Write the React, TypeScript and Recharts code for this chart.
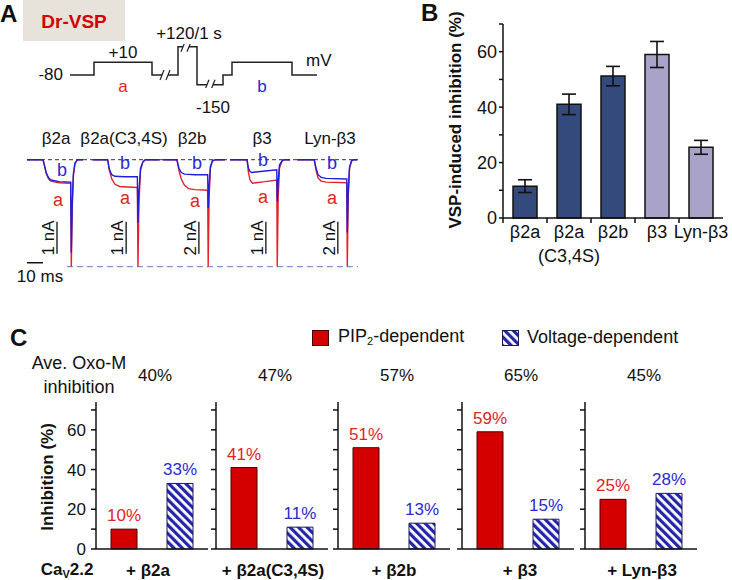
import React from "react";
import {
  BarChart,
  Bar,
  LineChart,
  Line,
  XAxis,
  YAxis,
  Cell,
  ErrorBar,
  LabelList,
  ReferenceLine,
  ReferenceDot,
} from "recharts";

const FONT = "'Liberation Sans', Arial, Helvetica, sans-serif";
const INK = "#111";
const RED = "#d40000";
const LABEL_RED = "#e02424";
const LABEL_BLUE = "#2a2ad0";
const TRACE_RED = "#e3232b";
const TRACE_BLUE = "#1f1fe0";

// ---- panel A: voltage protocol (schematic time, mV) ----
const protocolTime = [0, 24, 24, 82, 82, 108, 108, 127, 127, 153, 153, 162, 162, 222, 222, 247];
const protocolMv = [-80, -80, 10, 10, -80, -80, 120, 120, -150, -150, -80, -80, 10, 10, -80, -80];
const protocolBreaks = [
  { t: 95, mv: -80 },
  { t: 116, mv: 120 },
  { t: 140, mv: -150 },
];

// ---- panel A: current traces, [ms, current relative to red tail peak] ----
const traceNames = ["β2a", "β2a(C3,4S)", "β2b", "β3", "Lyn-β3"];
const traceStart = [0, 41, 85, 127, 169];
const traceScale = ["1 nA", "1 nA", "2 nA", "1 nA", "2 nA"];
const scaleBarT = [18.75, 62, 107.5, 149.4, 194.4];

const b2aRed = [[0, 0], [10, 0], [11, -0.06], [12, -0.13], [13.5, -0.18], [15, -0.2], [20, -0.215], [27.3, -0.22], [27.7, -1], [28.3, -0.45], [29, -0.15], [30, -0.04], [31.5, 0], [35, 0]];
const b2aBlue = [[0, 0], [10, 0], [11, -0.06], [12, -0.12], [13.5, -0.17], [15, -0.19], [20, -0.205], [27.3, -0.21], [27.7, -0.87], [28.3, -0.4], [29, -0.13], [30, -0.03], [31.5, 0], [35, 0]];
const c34Red = [[0, 0], [9.4, 0], [10.5, -0.1], [12, -0.18], [14, -0.23], [17, -0.25], [22, -0.255], [28, -0.26], [28.4, -1], [29, -0.4], [30, -0.1], [31.5, -0.02], [33, 0], [42, 0]];
const c34Blue = [[0, 0], [9.4, 0], [10.5, -0.09], [12, -0.14], [14, -0.155], [20, -0.16], [28, -0.16], [28.4, -0.59], [29, -0.3], [30, -0.08], [31.5, -0.02], [33, 0], [42, 0]];
const b2bRed = [[0, 0], [8.75, 0], [10, -0.1], [11.5, -0.18], [13.5, -0.24], [16, -0.27], [20, -0.28], [28, -0.285], [28.3, -1], [28.9, -0.35], [29.7, -0.08], [31, -0.01], [33, 0], [38.75, 0]];
const b2bBlue = [[0, 0], [8.75, 0], [10, -0.08], [11.5, -0.12], [13.5, -0.135], [20, -0.14], [28, -0.14], [28.3, -0.45], [28.9, -0.25], [29.7, -0.06], [31, -0.01], [33, 0], [38.75, 0]];
const b3Red = [[0, 0], [10.6, 0], [11.5, -0.12], [12.5, -0.19], [14, -0.22], [16, -0.215], [22, -0.205], [29.2, -0.19], [29.5, -1], [30.1, -0.35], [30.9, -0.08], [32.5, -0.01], [34, 0], [37.5, 0]];
const b3Blue = [[0, 0], [10.6, 0], [11.5, -0.08], [12.5, -0.11], [13.5, -0.12], [16, -0.115], [22, -0.105], [29.2, -0.095], [29.5, -0.39], [30.1, -0.2], [30.9, -0.05], [32.5, -0.01], [34, 0], [37.5, 0]];
const lynRed = [[0, 0], [10.6, 0], [11.8, -0.1], [13, -0.17], [15, -0.2], [18, -0.21], [31, -0.215], [31.3, -1], [31.9, -0.35], [32.7, -0.08], [34, -0.01], [35.5, 0], [37.5, 0]];
const lynBlue = [[0, 0], [10.6, 0], [11.8, -0.08], [13, -0.14], [15, -0.165], [18, -0.175], [31, -0.18], [31.3, -0.68], [31.9, -0.3], [32.7, -0.07], [34, -0.01], [35.5, 0], [37.5, 0]];
const redTraces = [b2aRed, c34Red, b2bRed, b3Red, lynRed];
const blueTraces = [b2aBlue, c34Blue, b2bBlue, b3Blue, lynBlue];

// ---- panel B ----
const bCats = ["β2a", "β2a\n(C3,4S)", "β2b", "β3", "Lyn-β3"];
const bMeans = [11.5, 41, 51.2, 59, 25.5];
const bSem = [2.3, 3.7, 3.5, 4.7, 2.5];
const bColors = ["#344a7c", "#344a7c", "#344a7c", "#a9a2c9", "#a9a2c9"];

// ---- panel C ----
const cGroups = ["+ β2a", "+ β2a(C3,4S)", "+ β2b", "+ β3", "+ Lyn-β3"];
const pipDep = [10, 41, 51, 59, 25];
const voltDep = [33, 11, 13, 15, 28];
const oxoM = [40, 47, 57, 65, 45];
const cAxisX = [96, 216, 338, 462, 585];

type TxtProps = {
  x: number;
  y: number;
  children: React.ReactNode;
  size?: number;
  color?: string;
  bold?: boolean;
  anchor?: "start" | "middle" | "end";
  rotate?: number;
};

const Txt = ({ x, y, children, size = 17, color = INK, bold = false, anchor = "middle", rotate = 0 }: TxtProps) => {
  const tx = anchor === "middle" ? "-50%" : anchor === "end" ? "-100%" : "0";
  return (
    <div
      style={{
        position: "absolute",
        left: x,
        top: y,
        transform: `translate(${tx}, -50%) rotate(${rotate}deg)`,
        fontSize: size,
        lineHeight: 1,
        whiteSpace: "nowrap",
        color,
        fontWeight: bold ? 700 : 400,
      }}
    >
      {children}
    </div>
  );
};

const BreakMark = (props: any) => {
  const { cx, cy } = props;
  return (
    <g>
      <rect x={cx - 3} y={cy - 4} width={6} height={8} fill="#fff" />
      <line x1={cx - 5} y1={cy + 5} x2={cx - 1} y2={cy - 5} stroke="#222" strokeWidth={1.2} />
      <line x1={cx + 1} y1={cy + 5} x2={cx + 5} y2={cy - 5} stroke="#222" strokeWidth={1.2} />
    </g>
  );
};

const Protocol = () => {
  const data = protocolTime.map((t, i) => ({ t, mv: protocolMv[i] }));
  const pxPerMv = 38 / 270;
  return (
    <div style={{ position: "absolute", left: 70, top: 47 - 20 * pxPerMv }}>
      <LineChart width={247} height={310 * pxPerMv} data={data} margin={{ top: 0, right: 0, bottom: 0, left: 0 }}>
        <XAxis type="number" dataKey="t" domain={[0, 247]} hide />
        <YAxis type="number" domain={[-170, 140]} hide />
        <Line dataKey="mv" stroke="#222" strokeWidth={1.5} dot={false} isAnimationActive={false} />
        {protocolBreaks.map((b, i) => (
          <ReferenceDot key={i} x={b.t} y={b.mv} r={0} shape={BreakMark} />
        ))}
      </LineChart>
    </div>
  );
};

const Traces = () => {
  const unit = 107;
  const shift = (pts: number[][], k: number) => pts.map(([t, i]) => ({ t: t + traceStart[k], i }));
  return (
    <div style={{ position: "absolute", left: 27, top: 160 - 0.1 * unit }}>
      <LineChart width={331} height={1.2 * unit} margin={{ top: 0, right: 0, bottom: 0, left: 0 }}>
        <XAxis type="number" dataKey="t" domain={[0, 207]} hide />
        <YAxis type="number" dataKey="i" domain={[-1.1, 0.1]} hide />
        <ReferenceLine segment={[{ x: 0, y: 0 }, { x: 207, y: 0 }]} stroke="#333" strokeDasharray="4 3" />
        <ReferenceLine segment={[{ x: 25, y: -1 }, { x: 207, y: -1 }]} stroke="#5a7ccc" strokeDasharray="6 4" />
        {redTraces.map((tr, k) => (
          <Line key={"r" + k} data={shift(tr, k)} dataKey="i" stroke={TRACE_RED} strokeWidth={1.4} dot={false} isAnimationActive={false} />
        ))}
        {blueTraces.map((tr, k) => (
          <Line key={"b" + k} data={shift(tr, k)} dataKey="i" stroke={TRACE_BLUE} strokeWidth={1.4} dot={false} isAnimationActive={false} />
        ))}
        <ReferenceLine segment={[{ x: 0, y: -0.963 }, { x: 10, y: -0.963 }]} stroke={INK} strokeWidth={1.5} />
        {scaleBarT.map((t, k) => (
          <ReferenceLine key={"s" + k} segment={[{ x: t, y: -0.58 }, { x: t, y: -0.88 }]} stroke={INK} strokeWidth={1.3} />
        ))}
      </LineChart>
    </div>
  );
};

const BTick = (props: any) => {
  const { x, y, payload } = props;
  const off = payload && payload.offset ? payload.offset : 22;
  const lines = String(payload.value).split("\n");
  return (
    <g>
      <line x1={x - off} x2={x - off} y1={y - 7} y2={y - 2} stroke={INK} strokeWidth={1.5} />
      <text x={x} y={y} textAnchor="middle" fontSize={18} fill={INK} fontFamily={FONT}>
        {lines.map((l, i) => (
          <tspan key={i} x={x} dy={i === 0 ? "0.71em" : "1.35em"}>
            {l}
          </tspan>
        ))}
      </text>
    </g>
  );
};

const PanelB = () => {
  const data = bCats.map((name, i) => ({ name, value: bMeans[i], err: bSem[i] }));
  return (
    <div style={{ position: "absolute", left: 370, top: 0 }}>
      <BarChart width={362} height={280} data={data} margin={{ top: 24, right: 9, bottom: 12, left: 93 }}>
        <XAxis
          dataKey="name"
          height={50}
          interval={0}
          tickLine={false}
          tickSize={5}
          tickMargin={2}
          axisLine={{ stroke: INK, strokeWidth: 1.5 }}
          tick={<BTick />}
        />
        <YAxis
          width={40}
          domain={[0, 70]}
          ticks={[0, 10, 20, 30, 40, 50, 60, 70]}
          interval={0}
          tickSize={4}
          tickMargin={2}
          tickFormatter={(v: number) => (v % 20 === 0 ? String(v) : "")}
          axisLine={{ stroke: INK, strokeWidth: 1.5 }}
          tickLine={{ stroke: INK, strokeWidth: 1.5 }}
          tick={{ fill: INK, fontSize: 18, fontFamily: FONT }}
        />
        <Bar dataKey="value" barSize={24} stroke={INK} strokeWidth={1.5} isAnimationActive={false}>
          {data.map((d, i) => (
            <Cell key={i} fill={bColors[i]} />
          ))}
          <ErrorBar dataKey="err" width={7} stroke={INK} strokeWidth={1.6} />
        </Bar>
      </BarChart>
    </div>
  );
};

const CLabel = (props: any) => {
  const { x, y, width, value, index } = props;
  return (
    <text
      x={x + width / 2}
      y={y - 8}
      textAnchor="middle"
      fontSize={17}
      fontFamily={FONT}
      fill={index === 0 ? LABEL_RED : LABEL_BLUE}
    >
      {value}%
    </text>
  );
};

const PanelCChart = ({ k }: { k: number }) => {
  const data = [
    { kind: "PIP2", v: pipDep[k] },
    { kind: "Voltage", v: voltDep[k] },
  ];
  return (
    <div style={{ position: "absolute", left: cAxisX[k] - 50, top: 380 }}>
      <BarChart width={166} height={182} data={data} margin={{ top: 22, right: 4, bottom: 12, left: 0 }}>
        <XAxis dataKey="kind" height={1} tick={false} tickLine={false} axisLine={{ stroke: INK, strokeWidth: 1.5 }} />
        <YAxis
          width={50}
          domain={[0, 74]}
          ticks={[0, 10, 20, 30, 40, 50, 60, 70]}
          interval={0}
          tickSize={5}
          tickMargin={5}
          tickFormatter={(v: number) => (k === 0 && v % 20 === 0 ? String(v) : "")}
          axisLine={{ stroke: INK, strokeWidth: 1.5 }}
          tickLine={{ stroke: INK, strokeWidth: 1.5 }}
          tick={{ fill: INK, fontSize: 17, fontFamily: FONT }}
        />
        <Bar dataKey="v" barSize={26} isAnimationActive={false}>
          <Cell fill={RED} stroke="#4a0000" strokeWidth={1} />
          <Cell fill="url(#hatch)" stroke="#1a1a5a" strokeWidth={1} />
          <LabelList dataKey="v" content={CLabel} />
        </Bar>
      </BarChart>
    </div>
  );
};

const App = () => {
  const traceHeadX = [56, 124, 192, 262, 330];
  const aLabels = [
    { bx: 62, by: 170, ax: 58, ay: 200 },
    { bx: 125, by: 163, ax: 125, ay: 198 },
    { bx: 197, by: 163, ax: 195, ay: 201 },
    { bx: 263, by: 160, ax: 263, ay: 197 },
    { bx: 332, by: 163, ax: 332, ay: 198 },
  ];
  const cGroupX = [148, 273, 394, 520, 642];
  return (
    <div
      style={{
        position: "absolute",
        left: 0,
        top: 0,
        width: 732,
        height: 580,
        background: "#fff",
        fontFamily: FONT,
        color: INK,
        overflow: "hidden",
      }}
    >
      <svg width={0} height={0} style={{ position: "absolute" }}>
        <defs>
          <pattern id="hatch" patternUnits="userSpaceOnUse" width={6} height={6} patternTransform="rotate(-45)">
            <rect width={6} height={6} fill="#fff" />
            <rect width={3.2} height={6} fill="#2424a8" />
          </pattern>
        </defs>
      </svg>

      {/* Panel A */}
      <Txt x={0} y={14} size={24} bold anchor="start">A</Txt>
      <div style={{ position: "absolute", left: 23, top: 0, width: 102, height: 41, background: "#e7e3da" }} />
      <Txt x={74} y={21} size={19} bold color={RED}>Dr-VSP</Txt>
      <Protocol />
      <Txt x={63} y={74} anchor="end">-80</Txt>
      <Txt x={123} y={52}>+10</Txt>
      <Txt x={189} y={33}>+120/1 s</Txt>
      <Txt x={306} y={60} anchor="start">mV</Txt>
      <Txt x={123} y={86} color={LABEL_RED}>a</Txt>
      <Txt x={262} y={86} color={LABEL_BLUE}>b</Txt>
      <Txt x={213} y={107}>-150</Txt>

      {traceNames.map((n, i) => (
        <Txt key={n} x={traceHeadX[i]} y={138}>{n}</Txt>
      ))}
      <Traces />
      {aLabels.map((l, i) => (
        <React.Fragment key={i}>
          <Txt x={l.bx} y={l.by} size={18} color={LABEL_BLUE}>b</Txt>
          <Txt x={l.ax} y={l.ay} size={18} color={LABEL_RED}>a</Txt>
        </React.Fragment>
      ))}
      {scaleBarT.map((t, i) => (
        <Txt key={i} x={27 + t * 1.6 - 9} y={238} rotate={-90}>{traceScale[i]}</Txt>
      ))}
      <Txt x={40} y={276}>10 ms</Txt>

      {/* Panel B */}
      <Txt x={421} y={13} size={24} bold anchor="start">B</Txt>
      <PanelB />
      <Txt x={455} y={120} bold rotate={-90}>VSP-induced inhibition (%)</Txt>

      {/* Panel C */}
      <Txt x={10} y={338} size={24} bold anchor="start">C</Txt>
      <div style={{ position: "absolute", left: 312, top: 330, width: 15, height: 14, background: RED, border: "1px solid #4a0000" }} />
      <Txt x={338} y={337} size={18} anchor="start">
        PIP<sub style={{ fontSize: 11, verticalAlign: "-3px" }}>2</sub>-dependent
      </Txt>
      <svg width={17} height={16} style={{ position: "absolute", left: 502, top: 330 }}>
        <rect x={0.5} y={0.5} width={16} height={15} fill="url(#hatch)" stroke="#1a1a5a" strokeWidth={1} />
      </svg>
      <Txt x={527} y={337} size={18} anchor="start">Voltage-dependent</Txt>

      <Txt x={79} y={363} size={18}>Ave. Oxo-M</Txt>
      <Txt x={79} y={387} size={18}>inhibition</Txt>
      {oxoM.map((v, i) => (
        <Txt key={i} x={cAxisX[i] + 59} y={375}>{v}%</Txt>
      ))}

      {cGroups.map((g, i) => (
        <PanelCChart key={g} k={i} />
      ))}
      <Txt x={47} y={477} bold rotate={-90}>Inhibition (%)</Txt>

      <Txt x={67} y={570} bold>
        Ca<sub style={{ fontSize: 11, verticalAlign: "-3px" }}>V</sub>2.2
      </Txt>
      {cGroups.map((g, i) => (
        <Txt key={g} x={cGroupX[i]} y={570} bold>{g}</Txt>
      ))}
    </div>
  );
};

export default App;
